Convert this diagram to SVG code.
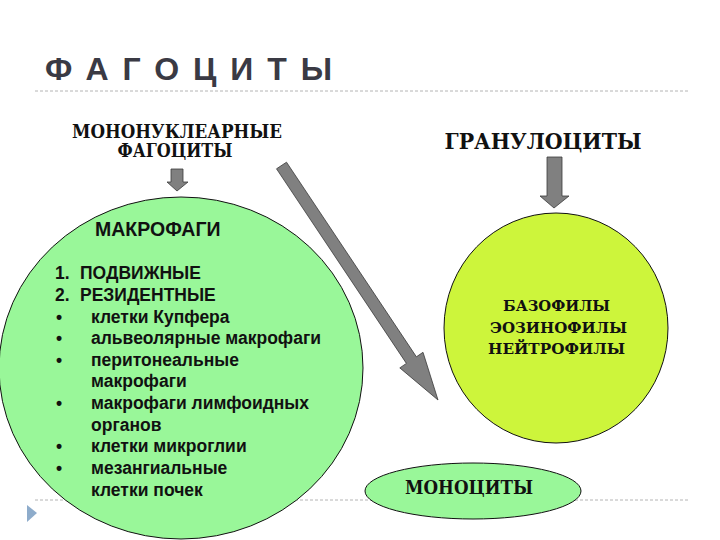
<svg xmlns="http://www.w3.org/2000/svg" width="720" height="540" viewBox="0 0 720 540">
<style>
.serif{font-family:"DejaVu Serif","Liberation Serif",serif;font-weight:bold;fill:#111}
.sans{font-family:"Liberation Sans",Arial,sans-serif;font-weight:bold;fill:#111}
.dash{stroke:#b4b4b4;stroke-width:1;stroke-dasharray:3 2;fill:none}
.arrow{fill:#808080;stroke:#3a3a3a;stroke-width:0.8}
.circ{stroke:#111;stroke-width:1}
</style>
<rect width="720" height="540" fill="#fff"/>
<g id="title">
<text x="45" y="80" font-family="Liberation Sans, Arial, sans-serif" font-weight="bold" font-size="32" fill="#3a3a44" textLength="287" lengthAdjust="spacing">ФАГОЦИТЫ</text>
<line class="dash" x1="35" y1="91" x2="690" y2="91"/>
<line class="dash" x1="35" y1="500" x2="690" y2="500"/>
<polygon points="27,505 37,513 27,522" fill="#8eaccb"/>
</g>
<g id="mononuclear">
<text class="serif" font-size="18" text-anchor="middle" x="177" y="138" textLength="210" lengthAdjust="spacingAndGlyphs">МОНОНУКЛЕАРНЫЕ</text>
<text class="serif" font-size="18" text-anchor="middle" x="175" y="157" textLength="115" lengthAdjust="spacingAndGlyphs">ФАГОЦИТЫ</text>
</g>
<g id="granulocytes">
<text class="serif" font-size="22" text-anchor="middle" x="543" y="149" textLength="197" lengthAdjust="spacingAndGlyphs">ГРАНУЛОЦИТЫ</text>
</g>
<g id="connectors">
<polygon class="arrow" points="171,169 183,169 183,182 188,182 177,191 167,182 171,182"/>
<polygon class="arrow" points="547,157 562,157 562,196 569,196 554,208 540,196 547,196"/>
<polygon class="arrow" points="276.5,168.8 286.5,162.2 416.4,356.8 423,352.3 438,400 399.8,367.9 406.4,363.4"/>
</g>
<g id="macrophages">
<ellipse class="circ" cx="181" cy="368" rx="182" ry="171" fill="#99f799"/>
<text class="sans" font-size="19.5" x="95" y="236">МАКРОФАГИ</text>
<g class="sans" font-size="17.5">
<text x="55" y="279">1.</text><text x="80" y="279">ПОДВИЖНЫЕ</text>
<text x="55" y="301">2.</text><text x="80" y="301">РЕЗИДЕНТНЫЕ</text>
<text x="56" y="323">•</text><text x="91" y="323">клетки Купфера</text>
<text x="56" y="344">•</text><text x="91" y="344">альвеолярные макрофаги</text>
<text x="56" y="366">•</text><text x="91" y="366">перитонеальные</text>
<text x="91" y="387">макрофаги</text>
<text x="56" y="409">•</text><text x="91" y="409">макрофаги лимфоидных</text>
<text x="91" y="431">органов</text>
<text x="56" y="452">•</text><text x="91" y="452">клетки микроглии</text>
<text x="56" y="474">•</text><text x="91" y="474">мезангиальные</text>
<text x="91" y="496">клетки почек</text>
</g>
</g>
<g id="granulocyte-types">
<ellipse class="circ" cx="556" cy="328" rx="112" ry="115" fill="#cdf53b"/>
<text class="serif" font-size="15.5" text-anchor="middle" x="556.5" y="311" textLength="107" lengthAdjust="spacingAndGlyphs">БАЗОФИЛЫ</text>
<text class="serif" font-size="15.5" text-anchor="middle" x="558.5" y="333" textLength="137" lengthAdjust="spacingAndGlyphs">ЭОЗИНОФИЛЫ</text>
<text class="serif" font-size="15.5" text-anchor="middle" x="556.5" y="354" textLength="137" lengthAdjust="spacingAndGlyphs">НЕЙТРОФИЛЫ</text>
</g>
<g id="monocytes">
<ellipse class="circ" cx="473" cy="491" rx="108" ry="28" fill="#99f799"/>
<text class="serif" font-size="18" text-anchor="middle" x="469" y="494" textLength="128" lengthAdjust="spacingAndGlyphs">МОНОЦИТЫ</text>
</g>
</svg>
